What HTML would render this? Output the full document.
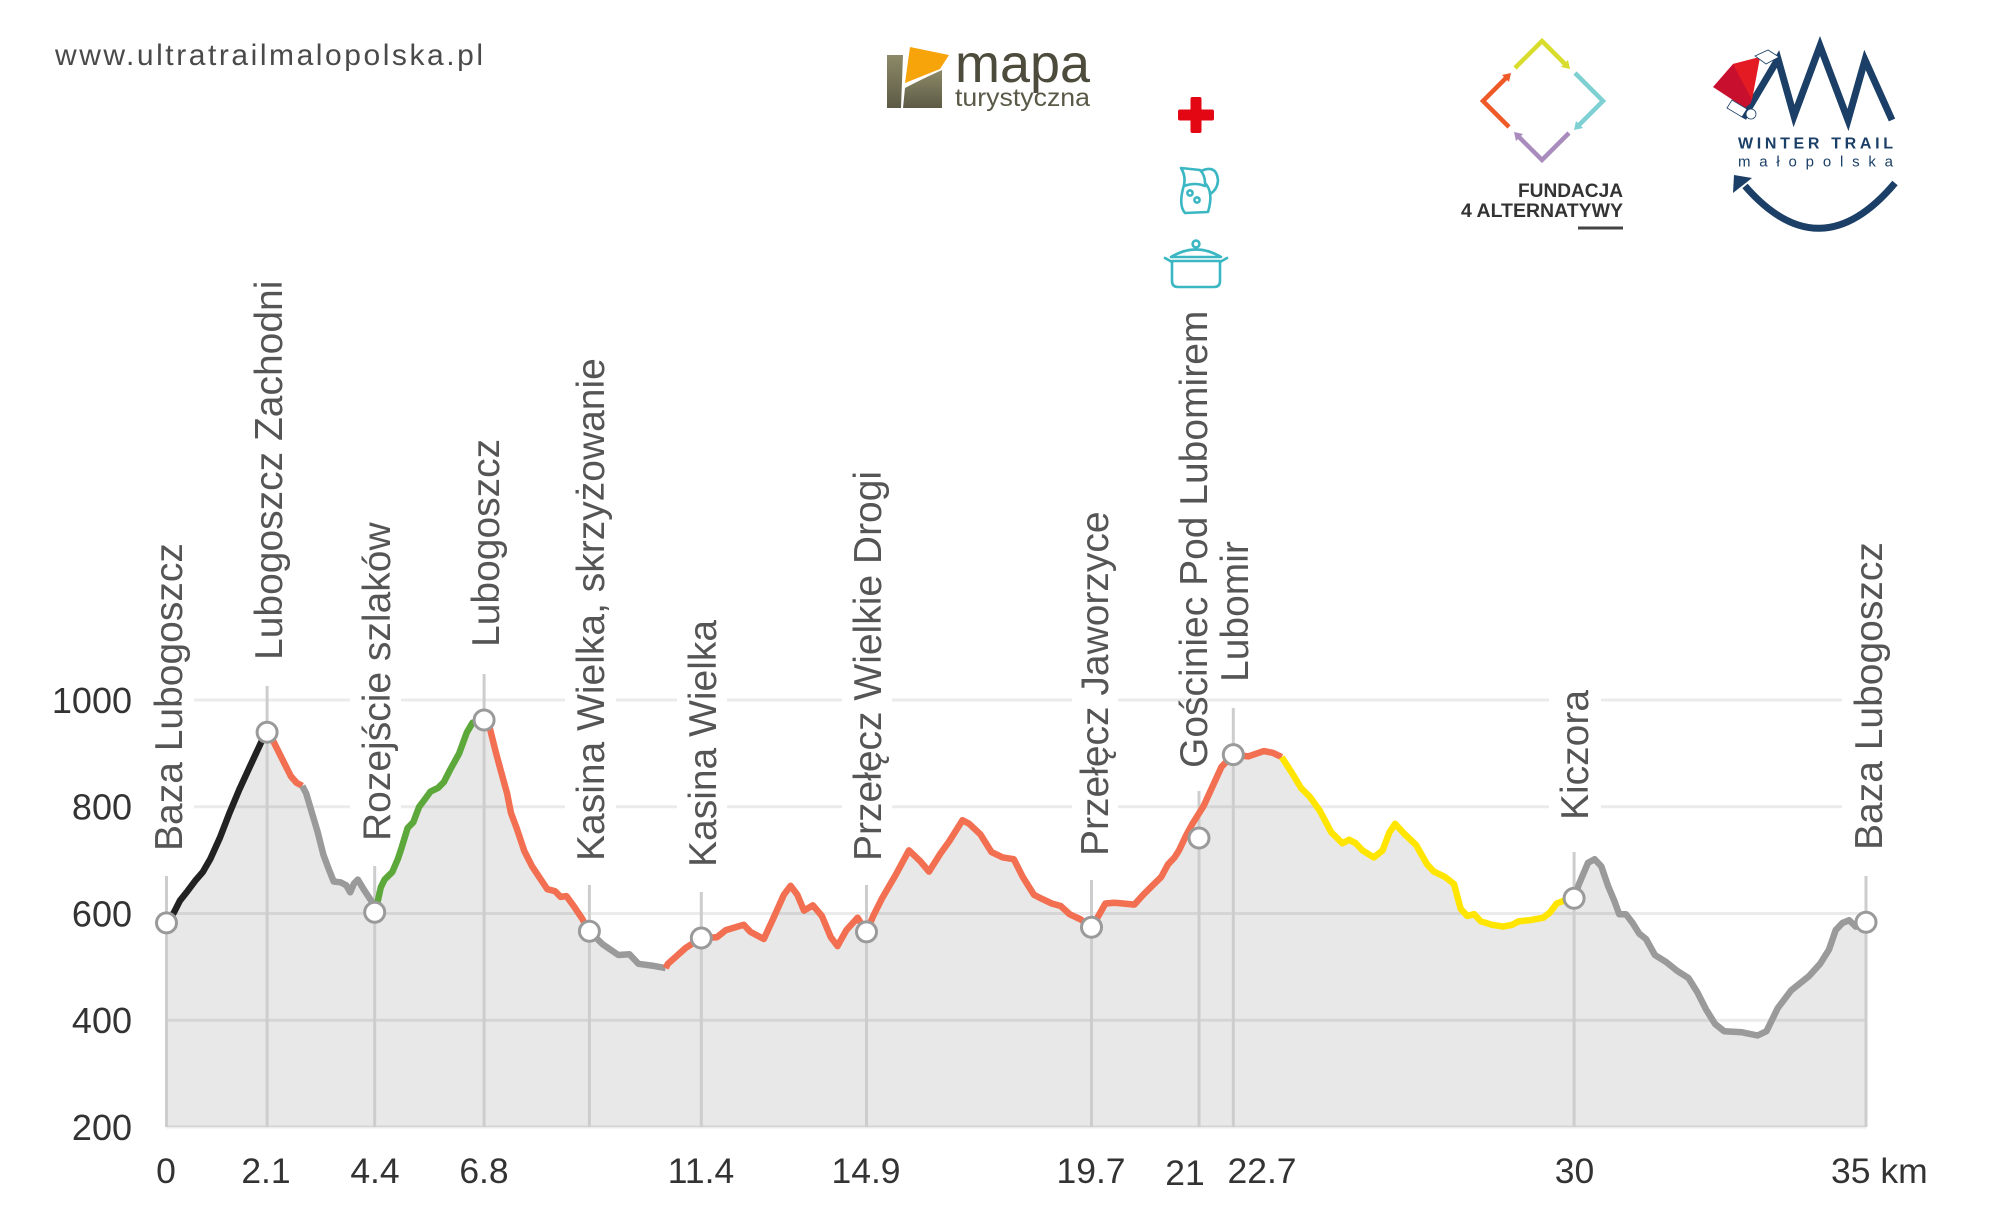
<!DOCTYPE html>
<html><head><meta charset="utf-8"><style>
html,body{margin:0;padding:0;background:#fff;}
svg{display:block;}
text{font-family:"Liberation Sans",Arial,sans-serif;}
</style></head><body>
<svg width="2000" height="1206" viewBox="0 0 2000 1206" xmlns="http://www.w3.org/2000/svg">
<rect x="0" y="0" width="2000" height="1206" fill="#fff"/>

<!-- header url -->
<text x="55" y="65" font-size="30" fill="#4a4a4a" textLength="428" lengthAdjust="spacing">www.ultratrailmalopolska.pl</text>

<!-- mapa turystyczna logo -->
<defs>
<linearGradient id="olive" x1="0" y1="0" x2="0" y2="1"><stop offset="0" stop-color="#8d8a68"/><stop offset="1" stop-color="#5c5a45"/></linearGradient>
</defs>
<polygon points="887,55 903,55 901,108 887,108" fill="url(#olive)"/>
<path d="M905,88 Q920,80 942,70 L942,108 L903,108 Z" fill="url(#olive)"/>
<polygon points="910,47 949,55 940,69 905,83" fill="#f7a30a"/>
<text x="955" y="82" font-size="54" fill="#4d4b3c" textLength="135" lengthAdjust="spacingAndGlyphs">mapa</text>
<text x="955" y="106" font-size="25" fill="#5a5846" textLength="135" lengthAdjust="spacingAndGlyphs">turystyczna</text>

<!-- icons -->
<rect x="1178" y="109.5" width="36" height="11" rx="2" fill="#e30613"/>
<rect x="1190.5" y="97" width="11" height="36" rx="2" fill="#e30613"/>
<g fill="none" stroke="#3ab7c2" stroke-width="2.6" stroke-linejoin="round" stroke-linecap="round">
<path d="M1181,168 L1200,170 Q1205,175 1205,183 Q1214,192 1208,212 L1185,213 Q1178,205 1184,185 Q1186,176 1181,168 Z"/>
<path d="M1201,171 Q1217,164 1218,181 Q1217,190 1210,194"/>
<path d="M1184,186 Q1195,182 1205,186"/>
<circle cx="1190" cy="193" r="2.6"/><circle cx="1197" cy="200" r="2.6"/>
<circle cx="1196" cy="244" r="3.4"/>
<path d="M1171,257 Q1196,242 1221,257 Z"/>
<path d="M1172,261 L1220,261 L1220,281 Q1220,287 1214,287 L1178,287 Q1172,287 1172,281 Z"/>
<path d="M1172,262 L1165,258 M1220,262 L1227,258"/>
</g>

<!-- fundacja logo -->
<g fill="none" stroke-width="4.5" stroke-linecap="butt" stroke-linejoin="miter">
<polyline points="1515,68 1542,41 1566,65" stroke="#d8dc2a"/>
<polyline points="1575,73 1603,101 1578,126" stroke="#7fd0d2"/>
<polyline points="1569,133 1542,160 1518,136" stroke="#a98bbd"/>
<polyline points="1509,127 1483,101 1507,77" stroke="#f05a28"/>
</g>
<polygon points="1570,69 1561,67 1568,60" fill="#d8dc2a"/>
<polygon points="1574,130 1576,121 1583,128" fill="#7fd0d2"/>
<polygon points="1514,132 1523,134 1516,141" fill="#a98bbd"/>
<polygon points="1511,73 1509,82 1502,75" fill="#f05a28"/>
<text x="1623" y="197" font-size="19" font-weight="bold" fill="#333" text-anchor="end" textLength="105" lengthAdjust="spacingAndGlyphs">FUNDACJA</text>
<text x="1623" y="217" font-size="19" font-weight="bold" fill="#333" text-anchor="end" textLength="162" lengthAdjust="spacingAndGlyphs">4 ALTERNATYWY</text>
<rect x="1578" y="226.5" width="45" height="3" fill="#444"/>

<!-- winter trail logo -->
<polyline points="1743,118 1778,59 1794,116 1820,46 1848,120 1865,60 1892,120" fill="none" stroke="#1b3f66" stroke-width="7" stroke-linejoin="miter"/>
<polygon points="1713,87 1733,64 1760,57 1751,103 1745,108" fill="#c8102e"/>
<polygon points="1733,64 1760,57 1752,100" fill="#e41b23"/>
<polygon points="1755,56 1768,50 1779,57 1766,64" fill="#fff" stroke="#1b3f66" stroke-width="0.8"/>
<polygon points="1727,108 1732,100 1747,109 1742,117" fill="#fff" stroke="#1b3f66" stroke-width="0.8"/>
<circle cx="1751" cy="114" r="5" fill="#fff" stroke="#1b3f66" stroke-width="0.8"/>
<text x="1738" y="148.5" font-size="16" font-weight="bold" fill="#1b3f66" textLength="155" lengthAdjust="spacing">WINTER TRAIL</text>
<text x="1738" y="166.5" font-size="15" fill="#1b3f66" textLength="155" lengthAdjust="spacing">małopolska</text>
<path d="M1895,183 Q1820,272 1745,186" fill="none" stroke="#1b3f66" stroke-width="7"/>
<polygon points="1733,193 1734,175 1752,178" fill="#1b3f66"/>

<!-- gridlines -->
<g stroke="#ebebeb" stroke-width="3">
<line x1="166.5" y1="700" x2="1866" y2="700"/>
<line x1="166.5" y1="806.75" x2="1866" y2="806.75"/>
<line x1="166.5" y1="913.5" x2="1866" y2="913.5"/>
<line x1="166.5" y1="1020.25" x2="1866" y2="1020.25"/>
<line x1="166.5" y1="1127" x2="1866" y2="1127"/>
</g>

<!-- fill -->
<polygon fill="rgba(0,0,0,0.09)" points="166.5,1127 166.5,922.9 174.1,912.2 179.9,900.7 187.5,891.1 195.2,880.8 202.8,872 210.5,858.6 220,837.5 229.6,812.7 239.2,789.7 250.7,764.8 262.2,740 267.1,732.3 271.7,738 283.2,761 290.9,776.3 296.6,782.8 302.3,785.9 306.2,793.5 311.9,812.7 317.6,831.8 323.4,854.8 329.1,870 333.7,881.5 340.6,882.3 346.3,885.4 350.2,892.3 354,883.5 357.8,879.6 363.6,889.2 371.2,900.7 374.7,912.2 377,904.5 380.8,887.3 384.6,879.6 392.3,872 398,858.6 401.8,847.1 407.6,828 413.3,822.2 419.1,806.9 424.8,799.3 430.5,791.6 438.2,787.8 443.9,782 449.7,770.6 459.2,753.3 466.9,732.3 472.6,722.7 484.1,720 489.9,728.5 495.6,751.4 501.3,772.5 507.1,793.5 510.9,812.7 516.6,828 524.3,851 532,866.2 539.6,877.7 547.3,889.2 554.9,891.1 560.7,896.9 566.4,896.1 574,906.4 581.7,917.9 589.4,931.3 602.7,944.3 618.3,955 629.5,954.3 638.4,963.8 651.8,965.6 665.6,968.1 667.9,963.8 685.7,947.9 701.3,938 717,937.2 725.9,930.1 743.8,924.8 750.4,931.9 763.8,939 772.8,919.5 783.9,894.7 790.6,885.8 797.3,894.7 804,910.6 812.9,905.3 821.9,916 830.8,937.2 837.5,946.1 846.4,930.1 857.6,917.7 866.5,931.9 873.2,916 882.1,898.2 895.5,875.2 908.9,850.4 920.1,861 929,871.6 940.2,853.9 949.1,841.5 962.5,820.2 969.2,823.8 980.4,834.4 991.5,852.1 1002.7,857.4 1013.8,859.2 1022.8,877 1033.9,894.7 1040.6,898.2 1051.8,903.5 1060.7,906 1069.6,914.2 1080.8,919.5 1091.5,927.3 1096.4,919.5 1105.4,903.5 1114.3,902.8 1123.2,903.5 1134.4,904.6 1143.3,894.7 1152.2,885.8 1161.2,877 1167.9,864.5 1174.6,857.4 1179,850.4 1185.7,836.2 1192.4,823.8 1203.6,806 1212.5,786.5 1221.4,767 1233,754.6 1248.2,756.4 1263.8,751.1 1272.8,752.8 1281.7,757.1 1292,773 1301,788 1310,797 1320,811 1331,832 1342.4,843.3 1349.1,839.7 1355.8,843.3 1362.5,850.4 1373.7,857.4 1382.6,850.4 1389.3,832.6 1395.1,823.8 1404.9,834.4 1416.1,845 1427.2,864.5 1433.9,871.6 1445.1,877 1454,884 1460.7,908.9 1467.4,916 1474.1,914.2 1480.8,921.3 1492,924.8 1503.1,926.6 1512.1,924.8 1518.8,921.3 1530,920.2 1543.3,917.7 1550,912.4 1556.7,903.5 1565.6,900 1574.1,898.2 1579,884 1588,862.8 1594.6,859.2 1601.3,866.3 1608,885.8 1614.7,901.8 1619.2,914.2 1625.9,914.2 1632.6,923 1639.3,933.7 1646,939 1654.9,955 1666.1,962 1677.2,970.9 1688.4,978 1697.3,992.2 1706.3,1009.9 1715.2,1024.1 1724.1,1031.2 1742,1032.3 1757.6,1035.5 1766.5,1031.2 1777.7,1008.2 1791.1,990.4 1808.9,976.2 1820.1,963.8 1829,949.6 1835.7,930.1 1842.4,923 1849.1,920.2 1855.8,926.6 1866,922.3 1866,1127"/>

<!-- label boxes -->
<g fill="#fff">
<rect x="143" y="537" width="51" height="320"/>
<rect x="350" y="512" width="51" height="335"/>
<rect x="565" y="349" width="51" height="518"/>
<rect x="677" y="612" width="50" height="261"/>
<rect x="842" y="459" width="50" height="408"/>
<rect x="1072" y="503" width="46" height="359"/>
<rect x="1549" y="689" width="52" height="137"/>
<rect x="1842" y="540" width="52" height="316"/>
</g>

<!-- vertical marker lines -->
<g stroke="#cdcdcd" stroke-width="3">
<line x1="166.5" y1="876" x2="166.5" y2="1127"/>
<line x1="267.1" y1="686" x2="267.1" y2="1127"/>
<line x1="374.7" y1="866" x2="374.7" y2="1127"/>
<line x1="484.1" y1="674" x2="484.1" y2="1127"/>
<line x1="589.4" y1="885" x2="589.4" y2="1127"/>
<line x1="701.3" y1="892" x2="701.3" y2="1127"/>
<line x1="866.5" y1="885" x2="866.5" y2="1127"/>
<line x1="1091.5" y1="880" x2="1091.5" y2="1127"/>
<line x1="1199" y1="791" x2="1199" y2="1127"/>
<line x1="1233.3" y1="708" x2="1233.3" y2="1127"/>
<line x1="1574.1" y1="852" x2="1574.1" y2="1127"/>
<line x1="1866" y1="876" x2="1866" y2="1127"/>
</g>

<!-- profile line -->
<g fill="none" stroke-width="6.5" stroke-linejoin="round" stroke-linecap="butt">
<polyline stroke="#222" points="166.5,922.9 174.1,912.2 179.9,900.7 187.5,891.1 195.2,880.8 202.8,872 210.5,858.6 220,837.5 229.6,812.7 239.2,789.7 250.7,764.8 262.2,740 267.1,732.3"/>
<polyline stroke="#f26f52" points="267.1,732.3 271.7,738 283.2,761 290.9,776.3 296.6,782.8 302.3,785.9"/>
<polyline stroke="#9a9a9a" points="302.3,785.9 306.2,793.5 311.9,812.7 317.6,831.8 323.4,854.8 329.1,870 333.7,881.5 340.6,882.3 346.3,885.4 350.2,892.3 354,883.5 357.8,879.6 363.6,889.2 371.2,900.7 374.7,912.2"/>
<polyline stroke="#5da83a" points="374.7,912.2 377,904.5 380.8,887.3 384.6,879.6 392.3,872 398,858.6 401.8,847.1 407.6,828 413.3,822.2 419.1,806.9 424.8,799.3 430.5,791.6 438.2,787.8 443.9,782 449.7,770.6 459.2,753.3 466.9,732.3 472.6,722.7 484.1,720"/>
<polyline stroke="#f26f52" points="484.1,720 489.9,728.5 495.6,751.4 501.3,772.5 507.1,793.5 510.9,812.7 516.6,828 524.3,851 532,866.2 539.6,877.7 547.3,889.2 554.9,891.1 560.7,896.9 566.4,896.1 574,906.4 581.7,917.9 589.4,931.3"/>
<polyline stroke="#9a9a9a" points="589.4,931.3 602.7,944.3 618.3,955 629.5,954.3 638.4,963.8 651.8,965.6 665.6,968.1"/>
<polyline stroke="#f26f52" points="665.6,968.1 667.9,963.8 685.7,947.9 701.3,938 717,937.2 725.9,930.1 743.8,924.8 750.4,931.9 763.8,939 772.8,919.5 783.9,894.7 790.6,885.8 797.3,894.7 804,910.6 812.9,905.3 821.9,916 830.8,937.2 837.5,946.1 846.4,930.1 857.6,917.7 866.5,931.9 873.2,916 882.1,898.2 895.5,875.2 908.9,850.4 920.1,861 929,871.6 940.2,853.9 949.1,841.5 962.5,820.2 969.2,823.8 980.4,834.4 991.5,852.1 1002.7,857.4 1013.8,859.2 1022.8,877 1033.9,894.7 1040.6,898.2 1051.8,903.5 1060.7,906 1069.6,914.2 1080.8,919.5 1091.5,927.3 1096.4,919.5 1105.4,903.5 1114.3,902.8 1123.2,903.5 1134.4,904.6 1143.3,894.7 1152.2,885.8 1161.2,877 1167.9,864.5 1174.6,857.4 1179,850.4 1185.7,836.2 1192.4,823.8 1203.6,806 1212.5,786.5 1221.4,767 1233,754.6 1248.2,756.4 1263.8,751.1 1272.8,752.8 1281.7,757.1"/>
<polyline stroke="#ffe500" points="1281.7,757.1 1292,773 1301,788 1310,797 1320,811 1331,832 1342.4,843.3 1349.1,839.7 1355.8,843.3 1362.5,850.4 1373.7,857.4 1382.6,850.4 1389.3,832.6 1395.1,823.8 1404.9,834.4 1416.1,845 1427.2,864.5 1433.9,871.6 1445.1,877 1454,884 1460.7,908.9 1467.4,916 1474.1,914.2 1480.8,921.3 1492,924.8 1503.1,926.6 1512.1,924.8 1518.8,921.3 1530,920.2 1543.3,917.7 1550,912.4 1556.7,903.5 1565.6,900 1574.1,898.2"/>
<polyline stroke="#9a9a9a" points="1574.1,898.2 1579,884 1588,862.8 1594.6,859.2 1601.3,866.3 1608,885.8 1614.7,901.8 1619.2,914.2 1625.9,914.2 1632.6,923 1639.3,933.7 1646,939 1654.9,955 1666.1,962 1677.2,970.9 1688.4,978 1697.3,992.2 1706.3,1009.9 1715.2,1024.1 1724.1,1031.2 1742,1032.3 1757.6,1035.5 1766.5,1031.2 1777.7,1008.2 1791.1,990.4 1808.9,976.2 1820.1,963.8 1829,949.6 1835.7,930.1 1842.4,923 1849.1,920.2 1855.8,926.6 1866,922.3"/>
</g>

<!-- markers -->
<g fill="#fff" stroke="#9a9a9a" stroke-width="3">
<circle cx="166.5" cy="922.9" r="10"/>
<circle cx="267.1" cy="732.3" r="10"/>
<circle cx="374.7" cy="912.2" r="10"/>
<circle cx="484.1" cy="720" r="10"/>
<circle cx="589.4" cy="931.3" r="10"/>
<circle cx="701.3" cy="938" r="10"/>
<circle cx="866.5" cy="931.9" r="10"/>
<circle cx="1091.5" cy="927.3" r="10"/>
<circle cx="1199" cy="838" r="10"/>
<circle cx="1233.3" cy="754.6" r="10"/>
<circle cx="1574.1" cy="898.2" r="10"/>
<circle cx="1866" cy="922.3" r="10"/>
</g>

<!-- rotated labels -->
<g font-size="39" fill="#555">
<text transform="translate(182,851) rotate(-90)">Baza Lubogoszcz</text>
<text transform="translate(282,660) rotate(-90)">Lubogoszcz Zachodni</text>
<text transform="translate(390,841) rotate(-90)">Rozejście szlaków</text>
<text transform="translate(499,647) rotate(-90)">Lubogoszcz</text>
<text transform="translate(604,861) rotate(-90)">Kasina Wielka, skrzyżowanie</text>
<text transform="translate(716,867) rotate(-90)">Kasina Wielka</text>
<text transform="translate(881,861) rotate(-90)">Przełęcz Wielkie Drogi</text>
<text transform="translate(1108,856) rotate(-90)">Przełęcz Jaworzyce</text>
<text transform="translate(1207,768) rotate(-90)">Gościniec Pod Lubomirem</text>
<text transform="translate(1248,682) rotate(-90)">Lubomir</text>
<text transform="translate(1588,820) rotate(-90)">Kiczora</text>
<text transform="translate(1882,850) rotate(-90)">Baza Lubogoszcz</text>
</g>

<!-- y axis labels -->
<g font-size="36" fill="#333" text-anchor="end">
<text x="132" y="713">1000</text>
<text x="132" y="819.5">800</text>
<text x="132" y="926.5">600</text>
<text x="132" y="1033">400</text>
<text x="132" y="1140">200</text>
</g>

<!-- x axis labels -->
<g font-size="35.5" fill="#333" text-anchor="middle">
<text x="166" y="1183">0</text>
<text x="266" y="1183">2.1</text>
<text x="375" y="1183">4.4</text>
<text x="484" y="1183">6.8</text>
<text x="701" y="1183">11.4</text>
<text x="866" y="1183">14.9</text>
<text x="1091" y="1183">19.7</text>
<text x="1185" y="1185">21</text>
<text x="1262" y="1183">22.7</text>
<text x="1574.5" y="1183">30</text>
</g>
<text x="1831" y="1183" font-size="35.5" fill="#333">35 km</text>
</svg>
</body></html>
